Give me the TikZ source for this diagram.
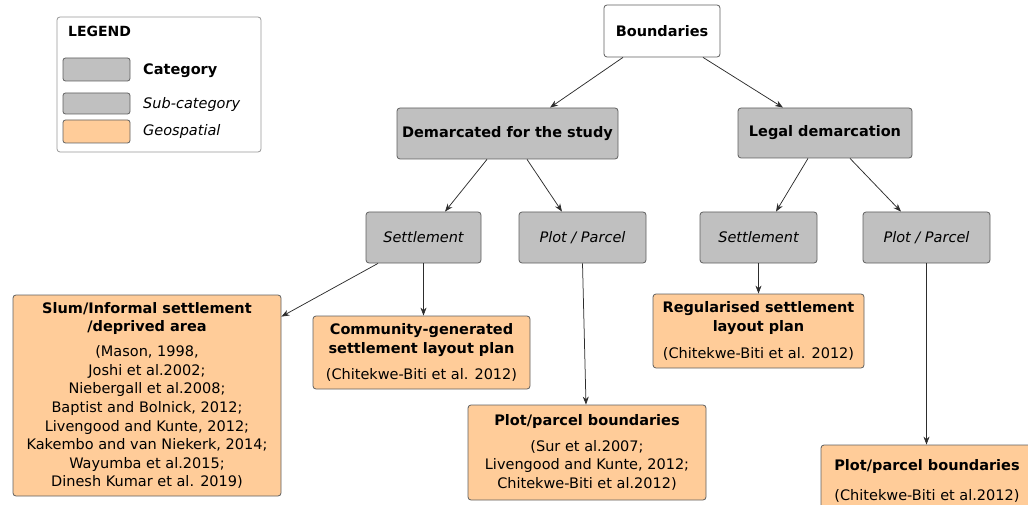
\documentclass[tikz,border=0pt]{standalone}
\usepackage{fontspec}
\setmainfont{DejaVu Sans}
\usetikzlibrary{arrows.meta}

\definecolor{catgray}{RGB}{192,192,192}
\definecolor{geo}{RGB}{255,204,153}
\definecolor{edge}{RGB}{95,95,95}
\definecolor{arrowc}{RGB}{45,45,45}
\definecolor{legendedge}{RGB}{150,150,150}

\newcommand{\boxfont}{\fontsize{14.5}{18.6}\selectfont}

\tikzset{
  box/.style={draw=edge, rounded corners=3pt, line width=0.8pt, inner sep=0pt, align=center},
  catbox/.style={box, fill=catgray, font=\boxfont\bfseries},
  subbox/.style={box, fill=catgray, font=\boxfont\itshape},
  geobox/.style={box, fill=geo, font=\boxfont},
  rootbox/.style={box, fill=white, font=\boxfont\bfseries},
  swatch/.style={draw=edge, rounded corners=2.5pt, line width=0.8pt, minimum width=67pt, minimum height=#1, inner sep=0pt},
  legtext/.style={anchor=west, inner sep=0pt, font=\boxfont},
  arr/.style={draw=arrowc, line width=0.75pt, -{Stealth[length=8pt,width=6pt]}},
}

\begin{document}
\begin{tikzpicture}[x=1pt,y=-1pt]
\useasboundingbox (0,0) rectangle (1028,505);

% legend
\node[draw=legendedge, rounded corners=3pt, line width=0.8pt, minimum width=204pt, minimum height=135pt, inner sep=0pt] (legend) at (159,84.5) {};
\node[legtext, font=\fontsize{14}{18.6}\selectfont\bfseries] (legtitle) at (68,31) {LEGEND};
\node[swatch=23pt, fill=catgray] (swcat) at (96.5,69.5) {};
\node[swatch=21pt, fill=catgray] (swsub) at (96.5,103.5) {};
\node[swatch=23pt, fill=geo] (swgeo) at (96.5,131.5) {};
\node[legtext, font=\boxfont\bfseries] (lcat) at (143,71) {Category};
\node[legtext, font=\boxfont\itshape] (lsub) at (143,105) {Sub-category};
\node[legtext, font=\boxfont\itshape] (lgeo) at (143,132) {Geospatial};

% categories
\node[rootbox, minimum width=116pt, minimum height=52pt] (bnd) at (662,31) {Boundaries};
\node[catbox, minimum width=221pt, minimum height=51pt] (dem) at (507.5,133.5) {Demarcated for the study};
\node[catbox, minimum width=174pt, minimum height=50pt] (legal) at (825,133) {Legal demarcation};

% sub-categories
\node[subbox, minimum width=115pt, minimum height=51pt] (setL) at (423.5,237.5) {Settlement};
\node[subbox, minimum width=127pt, minimum height=51pt] (plotL) at (582.5,237.5) {Plot / Parcel};
\node[subbox, minimum width=117pt, minimum height=51pt] (setR) at (758.5,237.5) {Settlement};
\node[subbox, minimum width=127pt, minimum height=51pt] (plotR) at (926.5,237.5) {Plot / Parcel};

% geospatial outputs
\node[geobox, minimum width=268pt, minimum height=201pt] (slum) at (147,395.5) {%
  {\bfseries Slum/Informal settlement}\\
  {\bfseries /deprived area}\\[6.4pt]
  (Mason, 1998,\\
  Joshi et al.2002;\\
  Niebergall et al.2008;\\
  Baptist and Bolnick, 2012;\\
  Livengood and Kunte, 2012;\\
  Kakembo and van Niekerk, 2014;\\
  Wayumba et al.2015;\\
  Dinesh Kumar et al. 2019)};
\node[geobox, minimum width=217pt, minimum height=73pt] (com) at (421.5,352.5) {%
  {\bfseries Community-generated}\\
  {\bfseries settlement layout plan}\\[8pt]
  (Chitekwe-Biti et al. 2012)};
\node[geobox, minimum width=238pt, minimum height=95pt] (pbl) at (587,452.5) {%
  {\bfseries Plot/parcel boundaries}\\[7pt]
  (Sur et al.2007;\\
  Livengood and Kunte, 2012;\\
  Chitekwe-Biti et al.2012)};
\node[geobox, minimum width=211pt, minimum height=74pt] (reg) at (758.5,331) {%
  {\bfseries Regularised settlement}\\
  {\bfseries layout plan}\\[9pt]
  (Chitekwe-Biti et al. 2012)};
\node[geobox, minimum width=212pt, minimum height=72pt] (pbr) at (927,481) {%
  {\bfseries Plot/parcel boundaries}\\[12pt]
  (Chitekwe-Biti et al.2012)};

% connectors
\draw[arr] ([xshift=-39pt]bnd.south) -- ([xshift=42.5pt]dem.north);
\draw[arr] ([xshift=41pt]bnd.south) -- ([xshift=-42pt]legal.north);
\draw[arr] ([xshift=-20.5pt]dem.south) -- ([xshift=21.5pt]setL.north);
\draw[arr] ([xshift=19.5pt]dem.south) -- ([xshift=-20.5pt]plotL.north);
\draw[arr] ([xshift=-17pt]legal.south) -- ([xshift=17.5pt]setR.north);
\draw[arr] ([xshift=25pt]legal.south) -- ([xshift=-25.5pt]plotR.north);
\draw[arr] ([xshift=-45.5pt]setL.south) -- ([yshift=-22pt]slum.north east);
\draw[arr] (setL.south) -- (setL.south |- com.north);
\draw[arr] (plotL.south) -- ([xshift=-1pt]pbl.north);
\draw[arr] (setR.south) -- (reg.north);
\draw[arr] (plotR.south) -- (plotR.south |- pbr.north);
\end{tikzpicture}
\end{document}
